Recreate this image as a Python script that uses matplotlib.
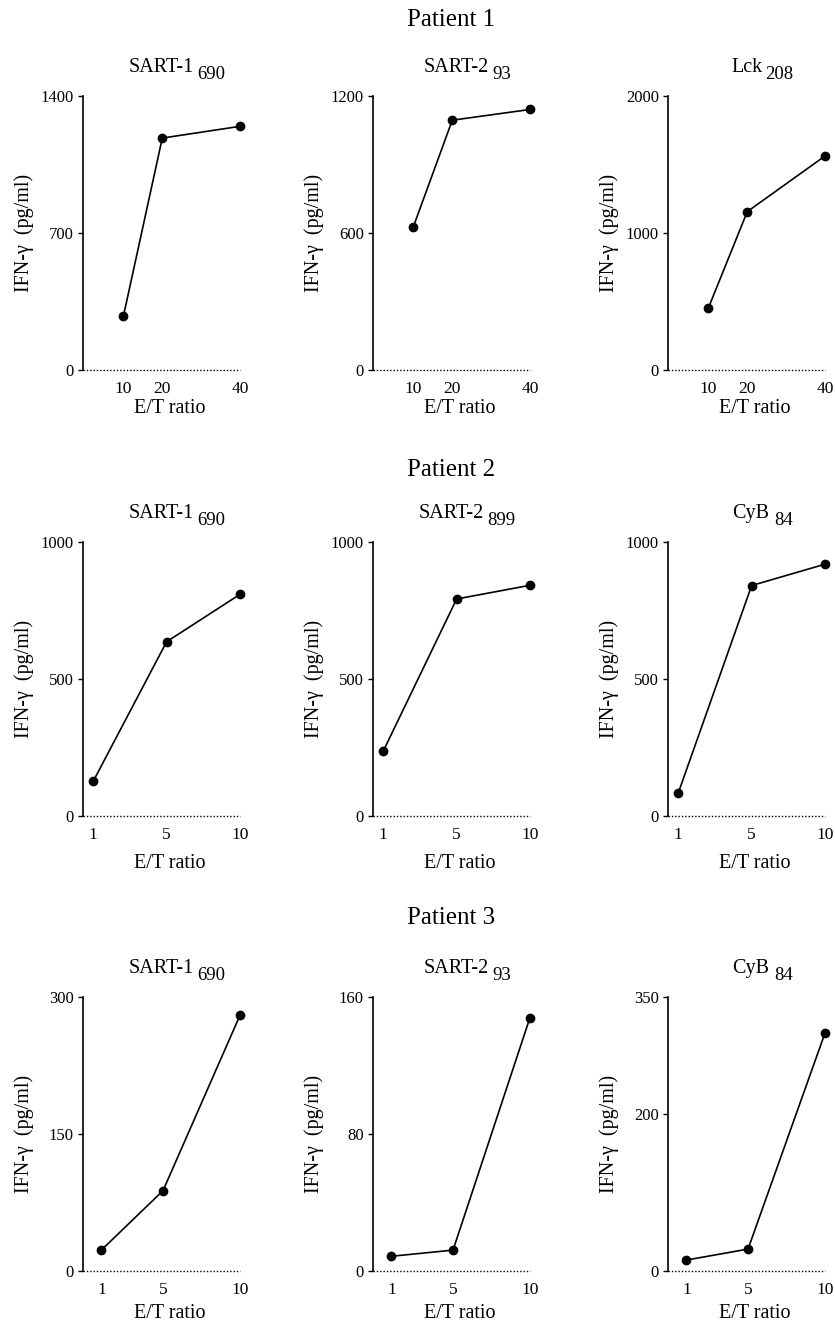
import matplotlib
matplotlib.use('Agg')
import matplotlib.pyplot as plt

plt.rcParams['font.family'] = ['Liberation Serif', 'DejaVu Serif']

# E/T ratios used for each patient
et_p1 = [10, 20, 40]
et_p2 = [1, 5, 10]
et_p3 = [1, 5, 10]

# IFN-gamma release (pg/ml)
p1_sart1_690 = [275, 1185, 1245]
p1_sart2_93 = [628, 1094, 1141]
p1_lck208 = [453, 1156, 1562]
p2_sart1_690 = [127, 636, 809]
p2_sart2_899 = [237, 792, 842]
p2_cyb84 = [84, 841, 919]
p3_sart1_690 = [23, 88, 280]
p3_sart2_93 = [8.6, 12.2, 148]
p3_cyb84 = [14, 28, 304]

patients = ['Patient 1', 'Patient 2', 'Patient 3']

# (row, col, ratios, values, peptide, position, yticks, evenly spaced x?)
panels = [
    (0, 0, et_p1, p1_sart1_690, 'SART-1', '690', [0, 700, 1400], False),
    (0, 1, et_p1, p1_sart2_93, 'SART-2', '93', [0, 600, 1200], False),
    (0, 2, et_p1, p1_lck208, 'Lck', '208', [0, 1000, 2000], False),
    (1, 0, et_p2, p2_sart1_690, 'SART-1', '690', [0, 500, 1000], True),
    (1, 1, et_p2, p2_sart2_899, 'SART-2', '899', [0, 500, 1000], True),
    (1, 2, et_p2, p2_cyb84, 'CyB', '84', [0, 500, 1000], True),
    (2, 0, et_p3, p3_sart1_690, 'SART-1', '690', [0, 150, 300], False),
    (2, 1, et_p3, p3_sart2_93, 'SART-2', '93', [0, 80, 160], False),
    (2, 2, et_p3, p3_cyb84, 'CyB', '84', [0, 200, 350], False),
]

W, H = 835, 1325
fig = plt.figure(figsize=(W / 100, H / 100), dpi=100)

col_left = [83, 373, 668]
row_bottom = [370, 816, 1271]   # pixel y of the zero line
xlabel_drop = [38, 47, 42]      # px from zero line to centre of "E/T ratio"
ax_w, ax_h = 157, 274
patient_y = [20, 470, 918]

titles = []
for row, col, ratios, vals, pep, pos, yt, even in panels:
    left = col_left[col] / W
    bottom = (H - row_bottom[row]) / H
    ax = fig.add_axes([left, bottom, ax_w / W, ax_h / H])

    if even:
        xs = list(range(len(ratios)))
        ax.set_xlim(-0.14, xs[-1])
    else:
        xs = ratios
        if ratios[-1] == 40:
            ax.set_xlim(-0.4, 40)
        else:
            ax.set_xlim(-0.2, 10)

    ax.plot(xs, vals, color='black', linewidth=1.2, marker='o',
            markersize=6, clip_on=False, zorder=3)
    ax.hlines(0, ax.get_xlim()[0], xs[-1], colors='black',
              linestyles=(0, (1, 1.4)), linewidth=1.0, clip_on=False)

    ax.set_ylim(0, yt[-1])
    ax.set_yticks(yt)
    ax.set_yticklabels([str(v) for v in yt])
    ax.set_xticks(xs)
    ax.set_xticklabels([str(v) for v in ratios])

    for side in ['top', 'right', 'bottom']:
        ax.spines[side].set_visible(False)
    ax.spines['left'].set_linewidth(1.2)

    ax.tick_params(axis='y', length=3.5, width=1.0, pad=3, labelsize=12)
    ax.tick_params(axis='x', length=0, pad=8, labelsize=12.5)

    ax.set_ylabel('IFN-\u03b3  (pg/ml)', fontsize=14.5)
    ax.yaxis.set_label_coords(-0.31, 0.5)
    ax.text(0.55, -xlabel_drop[row] / ax_h, 'E/T ratio', transform=ax.transAxes,
            fontsize=14.5, ha='center', va='center')

    # title: peptide name with its position as a lowered subscript
    t_main = ax.text(0, 1, pep, transform=ax.transAxes, fontsize=14.5,
                     ha='left', va='baseline')
    t_sub = ax.text(0, 1, pos, transform=ax.transAxes, fontsize=13.5,
                    ha='left', va='baseline')
    gap = 5 if pep == 'CyB' else 3
    titles.append((ax, t_main, t_sub, gap))

for name, y in zip(patients, patient_y):
    fig.text(451 / W, 1 - y / H, name, ha='center', va='center', fontsize=18)

renderer = fig.canvas.get_renderer()
for ax, t_main, t_sub, gap in titles:
    w1 = t_main.get_window_extent(renderer).width
    w2 = t_sub.get_window_extent(renderer).width
    total = w1 + gap + w2
    x0 = (0.6 * ax_w - total / 2) / ax_w
    base = 1 + 24 / ax_h
    t_main.set_position((x0, base))
    t_sub.set_position((x0 + (w1 + gap) / ax_w, base - 7 / ax_h))

fig.savefig('out.png', dpi=100)
